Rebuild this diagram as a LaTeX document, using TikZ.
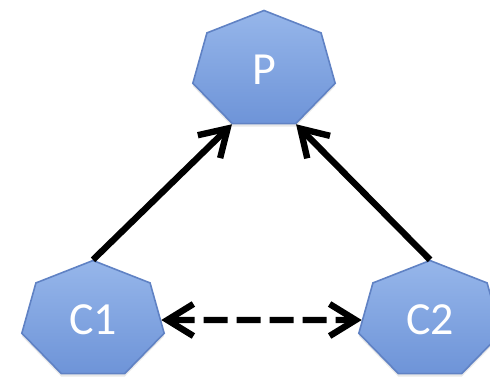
\documentclass[tikz,border=0pt]{standalone}
\usepackage{fontspec}
\setmainfont{Carlito}
\usetikzlibrary{shapes.geometric,arrows.meta,shadows}

\definecolor{azulclaro}{RGB}{150,182,234}
\definecolor{azuloscuro}{RGB}{110,148,216}
\definecolor{azulborde}{RGB}{96,130,196}

\newcommand{\etiq}[1]{\scalebox{1}[1.227]{#1}}

\begin{document}
\begin{tikzpicture}[x=0.5pt,y=-0.5pt,>={Straight Barb[length=13pt,width=16pt]},
  hepta/.style={regular polygon,regular polygon sides=7,minimum size=73pt,inner sep=0pt,
    yscale=0.815,draw=azulborde,line width=0.8pt,top color=azulclaro,bottom color=azuloscuro,
    drop shadow={opacity=0.18,shadow xshift=0pt,shadow yshift=-1.5pt},
    text=white,font=\fontsize{23}{25}\selectfont},
  flecha/.style={line width=3.2pt,->}
  ]

  \useasboundingbox (0,0) rectangle (490,380);

  \node[hepta] (p) at (264,70) {\etiq{P}};
  \node[hepta] (c1) at (93,320) {\etiq{C1}};
  \node[hepta] (c2) at (430,320) {\etiq{C2}};

  \draw[flecha] (c1.corner 1) -- (p.corner 4);
  \draw[flecha] (c2.corner 1) -- (p.corner 5);
  \draw[flecha,<->,dash pattern=on 12pt off 4.5pt] (c1.east) -- (c2.west);

\end{tikzpicture}
\end{document}
